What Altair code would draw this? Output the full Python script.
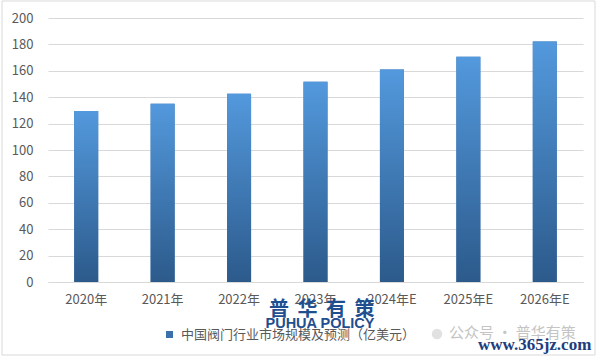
import altair as alt
import pandas as pd

# ---- data ----
years = ["2020年", "2021年", "2022年", "2023年", "2024年E", "2025年E", "2026年E"]
values = [129.6, 135.0, 142.6, 151.7, 160.9, 170.6, 182.2]
series_name = "中国阀门行业市场规模及预测（亿美元）"
y_ticks = [0, 20, 40, 60, 80, 100, 120, 140, 160, 180, 200]

# watermark texts seen on the picture
wm_logo_chars = ["普", "华", "有", "策"]
wm_logo_en = "PUHUA POLICY"
wm_wechat = "公众号 · 普华有策"
wm_site = "www.365jz.com"

FONT = "Noto Sans CJK SC"
GRAY = "#595959"
GRID = "#d9d9d9"

df = pd.DataFrame({"year": years, "value": values, "series": [series_name] * len(years)})

x = alt.X(
    "year:N",
    sort=years,
    scale=alt.Scale(paddingInner=0.686, paddingOuter=0.343),
    axis=alt.Axis(
        title=None, labelAngle=0, labelFontSize=13, labelColor=GRAY, labelFont=FONT,
        labelPadding=11, ticks=False, domainColor=GRID, domainWidth=1, grid=False,
    ),
)
y = alt.Y(
    "value:Q",
    scale=alt.Scale(domain=[0, 200], nice=False),
    axis=alt.Axis(
        title=None, values=y_ticks, labelFontSize=13, labelColor=GRAY, labelFont=FONT,
        labelPadding=15, ticks=False, domain=False, gridColor=GRID, gridWidth=1,
    ),
)

base = alt.Chart(df)

legend_bars = base.mark_bar().encode(
    x=x,
    y=y,
    color=alt.Color(
        "series:N",
        scale=alt.Scale(range=["#3b71ab"]),
        legend=alt.Legend(
            title=None, orient="none", legendX=115, legendY=310,
            symbolType="square", symbolSize=49, symbolStrokeWidth=0,
            labelFontSize=13, labelColor=GRAY, labelFont=FONT, labelOffset=5,
            labelLimit=400, padding=0,
        ),
    ),
)

gradient = {
    "gradient": "linear", "x1": 0, "x2": 0, "y1": 0, "y2": 1,
    "stops": [{"offset": 0, "color": "#5399dd"}, {"offset": 1, "color": "#2c5a8b"}],
}
grad_bars = base.mark_bar(color=gradient).encode(x=x, y=y)

one = alt.Data(values=[{"k": 1}])

border = alt.Chart(one).mark_rect(fill=None, stroke=GRID, strokeWidth=1).encode(
    x=alt.value(-46), x2=alt.value(547), y=alt.value(-17), y2=alt.value(337)
)

logo_layers = []
for i, ch in enumerate(wm_logo_chars):
    logo_layers.append(
        alt.Chart(one).mark_text(
            text=ch, font=FONT, fontSize=20, fontWeight="bold", color="#1f4f8f",
            align="center", baseline="middle",
        ).encode(x=alt.value(231 + 28.5 * i), y=alt.value(292))
    )

logo_en = alt.Chart(one).mark_text(
    text=wm_logo_en, font="Liberation Sans", fontSize=14.5, fontWeight="bold", color="#1f4f8f",
    align="center", baseline="middle",
).encode(x=alt.value(272), y=alt.value(306))

wechat_icon = alt.Chart(one).mark_point(filled=True, shape="circle", size=110, color="#d4d4d4").encode(
    x=alt.value(389), y=alt.value(316)
)

wechat = alt.Chart(one).mark_text(
    text=wm_wechat, font=FONT, fontSize=15, color="#c4c4c4", align="left", baseline="middle",
).encode(x=alt.value(401), y=alt.value(315))

site = alt.Chart(one).mark_text(
    text=wm_site, font="Liberation Serif", fontSize=17, fontWeight="bold", color="#1d3d7c",
    align="left", baseline="middle",
).encode(x=alt.value(430), y=alt.value(327))

chart = (
    alt.layer(border, legend_bars, grad_bars, *logo_layers, logo_en, wechat_icon, wechat, site)
    .properties(
        width=535, height=264,
        autosize=alt.AutoSizeParams(type="none"),
        padding={"left": 48, "top": 18, "right": 18, "bottom": 79},
        background="white",
    )
    .configure_view(stroke=None)
)

chart.save("out.html", embed_options={"renderer": "svg", "actions": False})
